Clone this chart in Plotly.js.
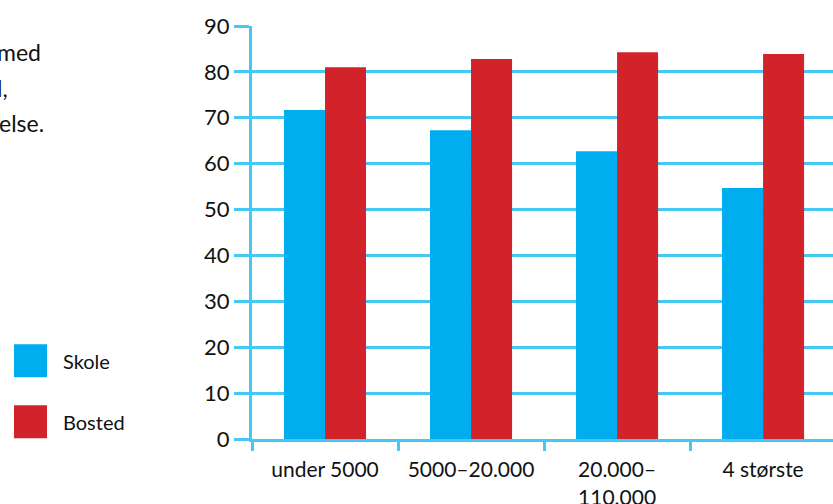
<!DOCTYPE html>
<html>
<head>
<meta charset="utf-8">
<script src="https://cdn.plot.ly/plotly-3.0.1.min.js"></script>
<style>html,body{margin:0;padding:0;background:#fff;overflow:hidden}#chart{width:833px;height:504px}</style>
</head>
<body>
<div id="chart"></div>
<script>
// ---- data ----
var categories = ["under 5000", "5000–20.000", "20.000–<br>110.000", "4 største"];
var skole = [71.7, 67.3, 62.7, 54.7];
var bosted = [81.0, 82.8, 84.3, 83.9];
var seriesNames = ["Skole", "Bosted"];
var yTicks = [0, 10, 20, 30, 40, 50, 60, 70, 80, 90];
var captionFragments = ["med", "l,", "else."];

// ---- layout helpers (pixel -> paper) ----
var W = 833, H = 504;
var L = 252, T = 26, B0 = 438.7;
var plotW = W - L, plotH = B0 - T;
function px(x) { return (x - L) / plotW; }
function py(y) { return (B0 - y) / plotH; }

var blue = "#00aeef", red = "#d2232a", grid = "#45c8f4";
var font = "Lato, 'Open Sans', sans-serif";

var traces = [
  {type: "bar", x: categories, y: skole, name: seriesNames[0], marker: {color: blue, line: {width: 0}}, showlegend: false},
  {type: "bar", x: categories, y: bosted, name: seriesNames[1], marker: {color: red, line: {width: 0}}, showlegend: false}
];

var annotations = [];
var capRight = [43, 10, 46];
var capMid = [52, 88, 123];
captionFragments.forEach(function (t, i) {
  annotations.push({text: t, xref: "paper", yref: "paper", x: px(capRight[i]), y: py(capMid[i]),
    xanchor: "right", yanchor: "middle", showarrow: false, font: {family: font, size: 23, color: "#111"}});
});
var legY = [360.5, 421.5];
var legColors = [blue, red];
var shapes = [];
seriesNames.forEach(function (n, i) {
  shapes.push({type: "rect", xref: "paper", yref: "paper", x0: px(14), x1: px(47),
    y0: py(legY[i] - 16.5), y1: py(legY[i] + 16.5), fillcolor: legColors[i], line: {width: 0}});
  annotations.push({text: n, xref: "paper", yref: "paper", x: px(61), y: py(legY[i]),
    xanchor: "left", yanchor: "middle", showarrow: false, font: {family: font, size: 20, color: "#111"}});
});

var layout = {
  width: W, height: H,
  margin: {l: L, r: 0, t: T, b: H - B0},
  paper_bgcolor: "#fff", plot_bgcolor: "#fff",
  barmode: "group", bargap: 0.438, bargroupgap: 0,
  showlegend: false,
  font: {family: font, size: 20, color: "#111"},
  xaxis: {
    type: "category", range: [-0.5, 3.479],
    tickson: "boundaries", ticks: "outside", ticklen: 9, tickwidth: 3, tickcolor: grid,
    showgrid: false, showline: true, linecolor: grid, linewidth: 3, zeroline: false,
    tickfont: {family: font, size: 21, color: "#111"}, ticklabelstandoff: 10
  },
  yaxis: {
    range: [0, 90], tickvals: yTicks, ticktext: yTicks.map(String),
    showgrid: true, gridcolor: grid, gridwidth: 3,
    zeroline: false, showline: true, linecolor: grid, linewidth: 3,
    ticks: "outside", ticklen: 15, tickwidth: 3, tickcolor: grid,
    tickfont: {family: font, size: 22, color: "#111"}
  },
  shapes: shapes,
  annotations: annotations
};

Plotly.newPlot("chart", traces, layout, {staticPlot: true, displayModeBar: false});
</script>
</body>
</html>
